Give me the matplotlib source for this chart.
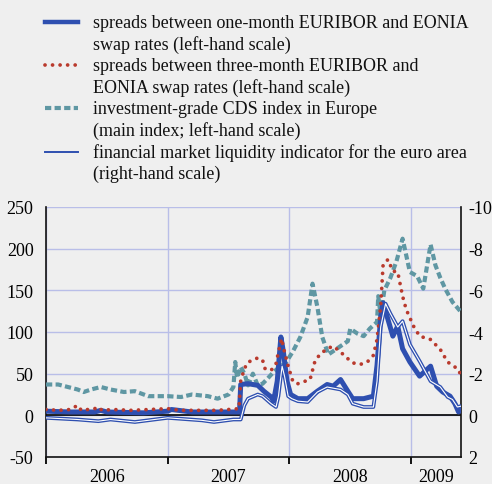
import matplotlib
matplotlib.use("Agg")
import matplotlib.pyplot as plt
import matplotlib.patheffects as pe
from matplotlib.lines import Line2D

plt.rcParams['font.family'] = ['Liberation Serif', 'DejaVu Serif']
plt.rcParams['axes.unicode_minus'] = False

# ---- data (x in fractional years) ----
# one-month EURIBOR - EONIA swap spread (basis points, left scale)
m1_x = [2006.00, 2006.20, 2006.40, 2006.45, 2006.50, 2006.80, 2007.00, 2007.03, 2007.20,
        2007.50, 2007.59, 2007.60, 2007.66, 2007.74, 2007.79, 2007.85, 2007.87, 2007.90,
        2007.93, 2007.95, 2007.98, 2008.01, 2008.07, 2008.15, 2008.23, 2008.31, 2008.36,
        2008.42, 2008.48, 2008.52, 2008.61, 2008.69, 2008.72, 2008.75, 2008.77, 2008.81,
        2008.85, 2008.89, 2008.93, 2008.99, 2009.07, 2009.16, 2009.21, 2009.26, 2009.32,
        2009.36, 2009.39, 2009.41]
m1_y = [5, 4, 4, 6, 4, 3, 5, 7, 4,
        4, 4, 37, 38, 36, 29, 22, 17, 41,
        94, 77, 41, 25, 20, 20, 29, 37, 35,
        43, 29, 20, 20, 23, 60, 118, 135, 115,
        95, 107, 80, 64, 47, 59, 35, 28, 23,
        14, 4, 9]

# three-month EURIBOR - EONIA swap spread (left scale)
m3_x = [2006.00, 2006.10, 2006.20, 2006.26, 2006.29, 2006.40, 2006.43, 2006.46, 2006.55,
        2006.70, 2006.85, 2007.00, 2007.10, 2007.25, 2007.40, 2007.50, 2007.585, 2007.60,
        2007.63, 2007.66, 2007.70, 2007.74, 2007.78, 2007.80, 2007.85, 2007.89, 2007.91,
        2007.935, 2007.96, 2007.99, 2008.03, 2008.07, 2008.11, 2008.17, 2008.21, 2008.25,
        2008.31, 2008.36, 2008.42, 2008.48, 2008.52, 2008.58, 2008.64, 2008.69, 2008.72,
        2008.75, 2008.77, 2008.81, 2008.85, 2008.89, 2008.93, 2008.96, 2009.02, 2009.07,
        2009.16, 2009.24, 2009.30, 2009.34, 2009.39, 2009.41]
m3_y = [7, 6, 7, 12, 6, 8, 10, 6, 7,
        6, 7, 8, 6, 6, 6, 7, 8, 41,
        56, 64, 66, 69, 66, 56, 54, 62, 76,
        92, 76, 59, 40, 38, 40, 43, 65, 73,
        80, 83, 76, 68, 63, 61, 64, 72, 91,
        131, 181, 187, 173, 172, 143, 127, 107, 95,
        91, 79, 64, 60, 55, 47]

# investment-grade CDS index, Europe main (left scale)
cds_x = [2006.00, 2006.10, 2006.26, 2006.31, 2006.37, 2006.45, 2006.53, 2006.64, 2006.73,
         2006.84, 2007.00, 2007.11, 2007.20, 2007.33, 2007.41, 2007.50, 2007.54, 2007.555,
         2007.57, 2007.60, 2007.63, 2007.66, 2007.70, 2007.74, 2007.78, 2007.82, 2007.87,
         2007.92, 2007.97, 2008.03, 2008.09, 2008.15, 2008.19, 2008.23, 2008.27, 2008.32,
         2008.36, 2008.42, 2008.48, 2008.50, 2008.56, 2008.61, 2008.66, 2008.72, 2008.73,
         2008.75, 2008.78, 2008.83, 2008.88, 2008.93, 2008.99, 2009.05, 2009.10, 2009.16,
         2009.20, 2009.24, 2009.28, 2009.34, 2009.41]
cds_y = [37, 37, 31, 28, 31, 34, 31, 28, 29,
         23, 23, 22, 25, 23, 20, 25, 34, 64,
         45, 58, 50, 36, 50, 36, 38, 44, 52,
         58, 63, 77, 94, 118, 158, 130, 94, 73,
         77, 83, 89, 104, 98, 95, 104, 112, 143,
         120, 150, 165, 185, 212, 172, 167, 152, 205,
         180, 165, 152, 136, 124]

# financial market liquidity indicator for the euro area (right scale)
liq_x = [2006.00, 2006.26, 2006.43, 2006.53, 2006.73, 2007.00, 2007.28, 2007.38, 2007.54,
         2007.60, 2007.63, 2007.66, 2007.74, 2007.78, 2007.85, 2007.89, 2007.91, 2007.94,
         2007.96, 2007.99, 2008.02, 2008.07, 2008.15, 2008.23, 2008.31, 2008.42, 2008.48,
         2008.52, 2008.61, 2008.69, 2008.72, 2008.75, 2008.79, 2008.83, 2008.89, 2008.93,
         2008.99, 2009.07, 2009.16, 2009.24, 2009.30, 2009.34, 2009.38, 2009.41]
liq_y = [0.12, 0.20, 0.28, 0.20, 0.32, 0.12, 0.24, 0.32, 0.20,
         0.20, -0.48, -0.80, -1.00, -0.92, -0.56, -0.40, -0.92, -2.36,
         -1.88, -0.92, -0.80, -0.68, -0.64, -1.12, -1.36, -1.24, -1.00,
         -0.56, -0.40, -0.40, -1.64, -4.24, -5.36, -4.88, -4.24, -4.52,
         -3.40, -2.60, -1.64, -1.36, -0.88, -0.76, -0.40, -0.44]

years = [2006, 2007, 2008, 2009]
year_mid = [2006.5, 2007.5, 2008.5, 2009.205]
left_ticks = [-50, 0, 50, 100, 150, 200, 250]
right_ticks = [-10, -8, -6, -4, -2, 0, 2]

legend_labels = [
    ["spreads between one-month EURIBOR and EONIA", "swap rates (left-hand scale)"],
    ["spreads between three-month EURIBOR and", "EONIA swap rates (left-hand scale)"],
    ["investment-grade CDS index in Europe", "(main index; left-hand scale)"],
    ["financial market liquidity indicator for the euro area", "(right-hand scale)"],
]

BLUE = '#2e4fb0'
RED = '#b93a2d'
TEAL = '#5f97a3'
GRID = '#b9bee8'
BG = '#efefef'
FS = 13

W, H = 492, 485
fig = plt.figure(figsize=(W / 100, H / 100), dpi=100, facecolor=BG)
ax = fig.add_axes([46 / W, 1 - 458 / H, (461 - 46) / W, (458 - 208) / H], facecolor=BG)

ax.plot(cds_x, cds_y, color=TEAL, lw=3, dashes=(1.5, 0.8), zorder=3)
ax.plot(m1_x, m1_y, color=BLUE, lw=3.6, zorder=4, solid_joinstyle='round')
ax.plot(m3_x, m3_y, color=RED, lw=2.7, linestyle=(0, (0.01, 2.0)),
        dash_capstyle='round', zorder=5)
ax.axhline(0, color='black', lw=1.2, zorder=2)

ax.set_xlim(2006, 2009.41)
ax.set_ylim(-50, 250)
ax.set_yticks(left_ticks)
ax.set_xticks(years)
ax.set_xticklabels([])
ax.set_xticks(year_mid, minor=True)
ax.set_xticklabels([str(y) for y in years], minor=True)
ax.tick_params(axis='x', which='major', length=5, width=1.3, direction='out')
ax.tick_params(axis='x', which='minor', length=0, pad=8, labelsize=FS)
ax.tick_params(axis='y', length=0, pad=9, labelsize=FS)
ax.grid(True, which='major', color=GRID, lw=1, zorder=0)
ax.set_axisbelow(True)
ax.spines['top'].set_visible(False)
for s in ['left', 'right', 'bottom']:
    ax.spines[s].set_linewidth(1.2)
    ax.spines[s].set_color('#111111')

ax2 = ax.twinx()
liq, = ax2.plot(liq_x, liq_y, color='white', lw=0.8, zorder=6)
liq.set_path_effects([pe.Stroke(linewidth=2.7, foreground=BLUE), pe.Normal()])
ax2.set_ylim(2, -10)
ax2.set_yticks(right_ticks)
ax2.tick_params(axis='y', length=0, pad=5, labelsize=FS)
for s in ax2.spines.values():
    s.set_visible(False)

# legend drawn by hand above the plot
handles = [dict(color=BLUE, lw=3.2, ls='-'),
           dict(color=RED, lw=2.7, ls=(0, (0.01, 2.0)), dash_capstyle='round'),
           dict(color=TEAL, lw=3, dashes=(1.5, 0.8)),
           dict(color=BLUE, lw=1.4, ls='-')]
row = 21.6
y0 = 23
for i, (h, lines) in enumerate(zip(handles, legend_labels)):
    yy = 1 - (y0 + 2 * i * row) / H
    fig.add_artist(Line2D([45 / W, 78 / W], [yy, yy], transform=fig.transFigure, **h))
    for j, txt in enumerate(lines):
        fig.text(93 / W, 1 - (y0 + (2 * i + j) * row) / H, txt, fontsize=FS,
                 va='center', ha='left', color='#111111')

fig.savefig('out.png', dpi=100, facecolor=BG)
